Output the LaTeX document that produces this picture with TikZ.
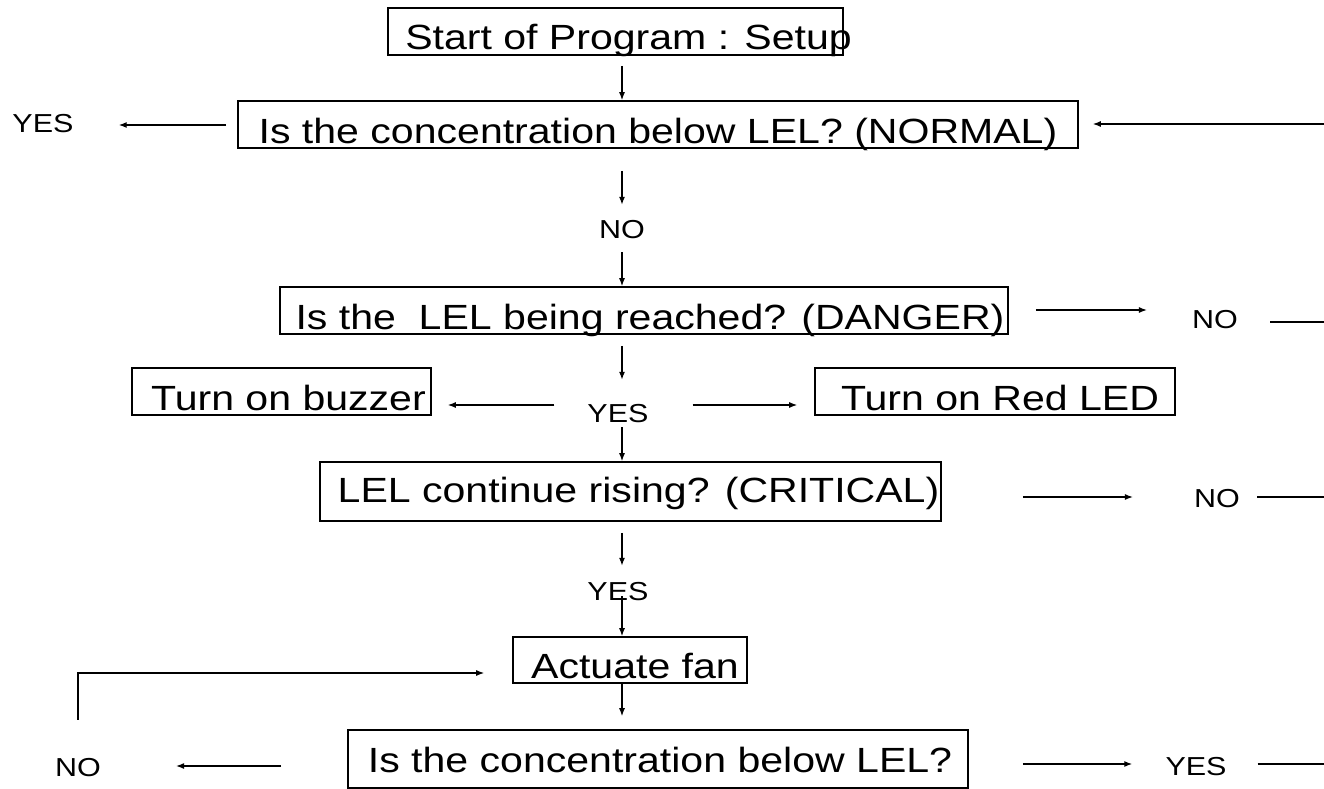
\documentclass[tikz,border=0pt]{standalone}
\usepackage{fontspec}
\usepackage{graphicx}
\setmainfont{Liberation Sans}
\usetikzlibrary{arrows.meta}
\newcommand{\mfont}{\fontsize{35}{40}\selectfont}
\newcommand{\lfont}{\fontsize{26}{30}\selectfont}
\newcommand{\sx}[1]{\scalebox{1.173}[1]{#1}}
\newcommand{\bt}[2]{\makebox[0pt]{\hspace*{#1}\sx{#2}}}
\tikzset{
  box/.style={draw, line width=1.6pt, inner sep=0pt, font=\mfont},
  lbl/.style={inner sep=0pt, font=\lfont, text height=19pt, text depth=0pt, anchor=base},
  arr/.style={line width=1.3pt, -{Latex[length=8pt,width=6pt]}},
  ln/.style={line width=1.3pt}
}
\begin{document}
\begin{tikzpicture}[x=1pt,y=-1pt]
\useasboundingbox (0,0) rectangle (1324,789);
% columns / rows / right edge
\coordinate (col) at (622,0);
\coordinate (edgeA) at (1324,124);
\coordinate (edgeB) at (1324,322);
\coordinate (edgeC) at (1324,497);
\coordinate (edgeD) at (1324,764);
\coordinate (rowY) at (0,405);
\coordinate (rowN) at (0,125);
\coordinate (rowD) at (0,310);
\coordinate (rowB) at (0,764);
\coordinate (rowL) at (0,766);
\coordinate (rowF) at (0,673);
% boxes
\node[box, minimum width=455pt, minimum height=47pt, text height=42pt, text depth=5pt] (start) at (615.5,31.5) {\bt{26pt}{Start of Program : Setup}};
\node[box, minimum width=840pt, minimum height=47pt, text height=42pt, text depth=5pt] (normal) at (658,124.5) {\bt{0pt}{Is the concentration below LEL? (NORMAL)}};
\node[box, minimum width=728pt, minimum height=47pt, text height=42pt, text depth=5pt] (danger) at (644,310.5) {\bt{12pt}{Is the\ \ LEL being reached? (DANGER)}};
\node[box, minimum width=299pt, minimum height=47pt, text height=42pt, text depth=5pt] (buzzer) at (281.5,391.5) {\bt{14pt}{Turn on buzzer}};
\node[box, minimum width=360pt, minimum height=47pt, text height=42pt, text depth=5pt] (led) at (995,391.5) {\bt{10pt}{Turn on Red LED}};
\node[box, minimum width=621pt, minimum height=59pt, text height=40pt, text depth=19pt] (critical) at (630.5,491.5) {\bt{16pt}{LEL continue rising? (CRITICAL)}};
\node[box, minimum width=234pt, minimum height=46pt, text height=41pt, text depth=5pt] (fan) at (630,660) {\bt{10pt}{Actuate fan}};
\node[box, minimum width=620pt, minimum height=58pt, text height=42pt, text depth=16pt] (bottom) at (658,759) {\bt{4pt}{Is the concentration below LEL?}};
% labels
\node[lbl] (yes1) at (43,132) {\sx{YES}};
\node[lbl] (no1) at (622,238) {\sx{NO}};
\node[lbl] (no2) at (1215,328) {\sx{NO}};
\node[lbl] (yes2) at (618,422) {\sx{YES}};
\node[lbl] (no3) at (1217,507) {\sx{NO}};
\node[lbl] (yes3) at (618,600) {\sx{YES}};
\node[lbl] (no4) at (78,776) {\sx{NO}};
\node[lbl] (yes4) at (1196,775) {\sx{YES}};
% main vertical flow
\draw[arr, shorten <=10pt] (start.south -| col) -- (normal.north -| col);
\draw[arr, shorten <=22pt, shorten >=14pt] (normal.south -| col) -- (no1.north -| col);
\draw[arr, shorten <=14pt] (no1.south -| col) -- (danger.north -| col);
\draw[arr, shorten <=11pt, shorten >=23pt] (danger.south -| col) -- (yes2.north -| col);
\draw[arr, shorten <=5pt] (yes2.south -| col) -- (critical.north -| col);
\draw[arr, shorten <=11pt, shorten >=15pt] (critical.south -| col) -- (yes3.north -| col);
\draw[arr, shorten <=-4pt] (yes3.south -| col) -- (fan.north -| col);
\draw[arr, shorten >=13pt] (fan.south -| col) -- (bottom.north -| col);
% YES branches
\draw[arr, shorten <=33pt, shorten >=16pt] (yes2.west |- rowY) -- (buzzer.east |- rowY);
\draw[arr, shorten <=44pt, shorten >=17pt] (yes2.east |- rowY) -- (led.west |- rowY);
% top loop
\draw[arr, shorten <=11pt, shorten >=45pt] (normal.west |- rowN) -- (yes1.east |- rowN);
\draw[arr, shorten >=14pt] (edgeA) -- (normal.east |- edgeA);
% danger NO
\draw[arr, shorten <=27pt, shorten >=45pt] (danger.east |- rowD) -- (no2.west |- rowD);
\draw[ln, shorten <=32pt] (no2.east |- edgeB) -- (edgeB);
% critical NO
\draw[arr, shorten <=81pt, shorten >=61pt] (critical.east |- edgeC) -- (no3.west |- edgeC);
\draw[ln, shorten <=17pt] (no3.east |- edgeC) -- (edgeC);
% bottom
\draw[arr, shorten <=54pt, shorten >=33pt] (bottom.east |- rowB) -- (yes4.west |- rowB);
\draw[ln, shorten <=31pt] (yes4.east |- edgeD) -- (edgeD);
\draw[arr, shorten <=66pt, shorten >=75pt] (bottom.west |- rowL) -- (no4.east |- rowL);
\draw[arr, shorten <=37pt, shorten >=28pt] (no4.north) |- (fan.west |- rowF);
\end{tikzpicture}
\end{document}
